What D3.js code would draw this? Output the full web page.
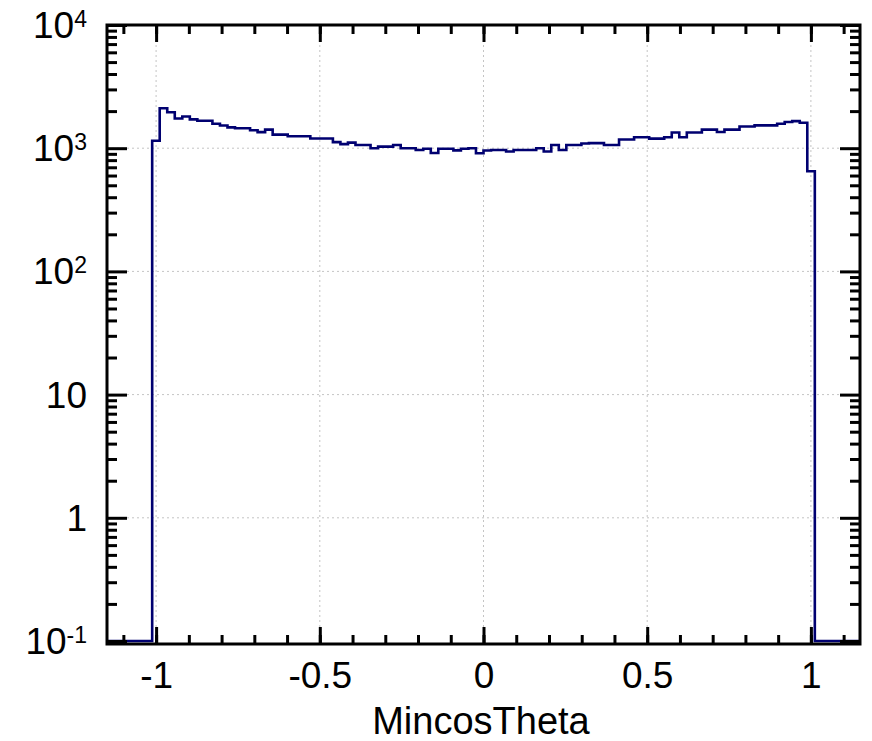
<!DOCTYPE html>
<html>
<head>
<meta charset="utf-8">
<title>MincosTheta</title>
<script src="https://d3js.org/d3.v7.min.js"></script>
<style>
  body { margin: 0; background: #fff; }
  .chart text { font-family: "Liberation Sans", Arial, Helvetica, sans-serif; fill: #000; }
  .grid line { stroke: #c4c4c4; stroke-width: 1; stroke-dasharray: 2,3; }
  .ax path { display: none; }
  .ax line { stroke: #000; stroke-width: 3; }
</style>
</head>
<body>
<svg class="chart" width="872" height="741"></svg>
<script>
// histogram: 100 bins over [-1.15, 1.15], log y
var xMin = -1.15, xMax = 1.15, nBins = 100;
var yMin = 0.1, yMax = 1e4;

var counts = [
  0, 0, 0, 0, 0, 0,
  1150, 2110, 1960, 1740, 1810, 1715, 1670, 1670, 1580, 1530,
  1476, 1450, 1450, 1400, 1350, 1415, 1290, 1290, 1250, 1250,
  1250, 1200, 1200, 1200, 1120, 1080, 1110, 1063, 1063, 1000,
  1030, 1030, 1063, 1000, 1000, 967, 990, 913, 990, 990,
  960, 990, 1000, 910, 958, 967, 967, 940, 967, 967,
  967, 1000, 940, 1063, 967, 1063, 1063, 1092, 1100, 1100,
  1063, 1063, 1177, 1177, 1226, 1226, 1197, 1197, 1226, 1342,
  1226, 1342, 1342, 1415, 1415, 1353, 1415, 1415, 1500, 1500,
  1532, 1532, 1532, 1580, 1630, 1660, 1610, 650,
  0, 0, 0, 0, 0, 0
];

var xMajor = [-1, -0.5, 0, 0.5, 1];
var xLabels = ["-1", "-0.5", "0", "0.5", "1"];
var xMinor = d3.range(-11, 12).map(function(d) { return d / 10; });

var yMajor = [0.1, 1, 10, 100, 1000, 10000];
var yBase = ["10", "1", "10", "10", "10", "10"];
var yExp = ["-1", "", "", "2", "3", "4"];
var yMinor = [];
[-1, 0, 1, 2, 3].forEach(function(e) {
  for (var m = 2; m <= 9; m++) yMinor.push(m * Math.pow(10, e));
});

var pLeft = 107, pRight = 860, pTop = 25, pBottom = 641;
var frameBottom = 644;

var x = d3.scaleLinear().domain([xMin, xMax]).range([pLeft, pRight]);
var y = d3.scaleLog().domain([yMin, yMax]).range([pBottom, pTop]);

var svg = d3.select(".chart");

// grid
var grid = svg.append("g").attr("class", "grid");
grid.selectAll("line.gx")
  .data(xMajor).enter().append("line")
  .attr("x1", function(d) { return x(d); })
  .attr("x2", function(d) { return x(d); })
  .attr("y1", pTop).attr("y2", frameBottom);
grid.selectAll("line.gy")
  .data(yMajor.slice(1, -1)).enter().append("line")
  .attr("y1", function(d) { return y(d); })
  .attr("y2", function(d) { return y(d); })
  .attr("x1", pLeft).attr("x2", pRight);

// histogram steps
var binW = (xMax - xMin) / nBins;
var pts = [];
counts.forEach(function(c, i) {
  var v = Math.max(c, yMin);
  pts.push([xMin + i * binW, v], [xMin + (i + 1) * binW, v]);
});
var line = d3.line()
  .x(function(d) { return x(d[0]); })
  .y(function(d) { return y(d[1]); });
svg.append("path")
  .datum(pts)
  .attr("d", line)
  .attr("fill", "none")
  .attr("stroke", "#000070")
  .attr("stroke-width", 2.6);

// axes, ticks pointing inward
function addAxis(axis, tx, ty) {
  return svg.append("g").attr("class", "ax")
    .attr("transform", "translate(" + tx + "," + ty + ")")
    .call(axis);
}
addAxis(d3.axisBottom(x).tickValues(xMinor).tickSize(-9).tickFormat(""), 0, frameBottom);
addAxis(d3.axisTop(x).tickValues(xMinor).tickSize(-9).tickFormat(""), 0, pTop);
addAxis(d3.axisTop(x).tickValues(xMajor).tickSize(-17).tickFormat(""), 0, pTop);
var xa = addAxis(d3.axisBottom(x).tickValues(xMajor).tickSize(-17)
  .tickFormat(function(d, i) { return xLabels[i]; }), 0, frameBottom);
xa.selectAll(".tick text")
  .attr("y", 44).attr("dy", 0)
  .style("font-size", "37px");

addAxis(d3.axisLeft(y).tickValues(yMinor).tickSize(-10).tickFormat(""), pLeft, 0);
addAxis(d3.axisRight(y).tickValues(yMinor).tickSize(-10).tickFormat(""), pRight, 0);
addAxis(d3.axisRight(y).tickValues(yMajor).tickSize(-20).tickFormat(""), pRight, 0);
var ya = addAxis(d3.axisLeft(y).tickValues(yMajor).tickSize(-20).tickFormat(""), pLeft, 0);
ya.selectAll(".tick text")
  .attr("x", -20).attr("dy", "0.34em")
  .style("font-size", "37px")
  .each(function(d, i) {
    var t = d3.select(this);
    t.append("tspan").text(yBase[i]);
    if (yExp[i]) {
      t.append("tspan").text(yExp[i])
        .style("font-size", "23px")
        .attr("dy", "-11");
    }
  });

// frame
svg.append("rect")
  .attr("x", pLeft).attr("y", pTop)
  .attr("width", pRight - pLeft).attr("height", frameBottom - pTop)
  .attr("fill", "none")
  .attr("stroke", "#000")
  .attr("stroke-width", 3);

// axis title
svg.append("text")
  .attr("x", 481).attr("y", 734)
  .attr("text-anchor", "middle")
  .style("font-size", "38px")
  .text("MincosTheta");
</script>
</body>
</html>
